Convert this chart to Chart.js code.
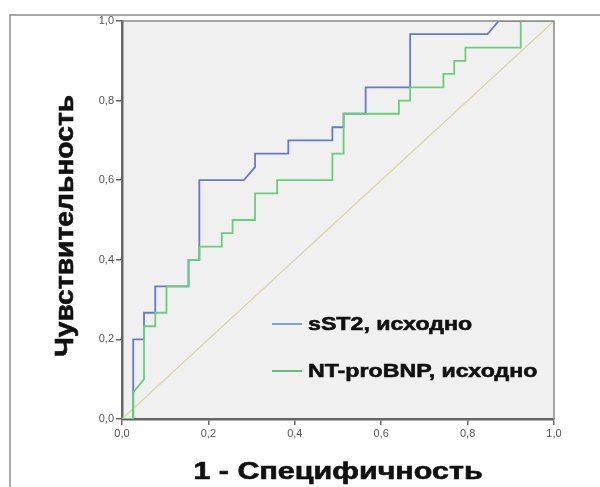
<!DOCTYPE html>
<html>
<head>
<meta charset="utf-8">
<script src="https://cdn.jsdelivr.net/npm/chart.js@4"></script>
<style>
  body { margin: 0; background: #fff; }
  canvas { display: block; }
</style>
</head>
<body>
<canvas id="rocChart" width="600" height="487"></canvas>
<script>
// ROC curves, values
const sst2Fpr = [0, 0.026, 0.026, 0.051, 0.051, 0.077, 0.077, 0.154, 0.154, 0.179, 0.179, 0.282, 0.308, 0.308,
    0.385, 0.385, 0.487, 0.487, 0.513, 0.513, 0.564, 0.564, 0.667, 0.667, 0.846, 0.872, 1.0];
const sst2Tpr = [0, 0, 0.2, 0.2, 0.267, 0.267, 0.333, 0.333, 0.4, 0.4, 0.6, 0.6, 0.633, 0.667,
    0.667, 0.7, 0.7, 0.733, 0.733, 0.767, 0.767, 0.833, 0.833, 0.967, 0.967, 1.0, 1.0];

const bnpFpr = [0, 0.026, 0.026, 0.051, 0.051, 0.077, 0.077, 0.103, 0.103, 0.154, 0.154, 0.179, 0.179,
    0.231, 0.231, 0.256, 0.256, 0.308, 0.308, 0.359, 0.359, 0.487, 0.487, 0.513, 0.513, 0.641, 0.641,
    0.667, 0.667, 0.744, 0.744, 0.769, 0.769, 0.795, 0.795, 0.923, 0.923, 1.0];
const bnpTpr = [0, 0, 0.067, 0.1, 0.233, 0.233, 0.267, 0.267, 0.333, 0.333, 0.4, 0.4, 0.433,
    0.433, 0.467, 0.467, 0.5, 0.5, 0.567, 0.567, 0.6, 0.6, 0.667, 0.667, 0.767, 0.767, 0.8,
    0.8, 0.833, 0.833, 0.867, 0.867, 0.9, 0.9, 0.933, 0.933, 1.0, 1.0];

const refLine = [0, 1];
const tickValues = [0, 0.2, 0.4, 0.6, 0.8, 1.0];

const seriesNames = ['sST2, исходно', 'NT-proBNP, исходно'];
const xTitle = '1 - Специфичность';
const yTitle = 'Чувствительность';

const toPoints = (xs, ys) => xs.map((x, i) => ({ x: x, y: ys[i] }));
const fmtTick = (v) => v.toFixed(1).replace('.', ',');

// the text in the picture is wider and heavier than Liberation Sans, so stretch it
function wideText(ctx, text, x, y, stretch) {
    ctx.save();
    ctx.translate(x, y);
    ctx.scale(stretch, 1);
    ctx.fillText(text, 0, 0);
    ctx.lineWidth = 0.6;
    ctx.strokeStyle = ctx.fillStyle;
    ctx.strokeText(text, 0, 0);
    ctx.restore();
}

// background, frame, titles and the in-plot legend
const decorPlugin = {
    id: 'decor',
    beforeDraw(chart) {
        const { ctx, chartArea: a } = chart;
        ctx.save();
        ctx.fillStyle = '#f0f0f0';
        ctx.fillRect(a.left, a.top, a.right - a.left, a.bottom - a.top);
        // outer frame (top and left)
        ctx.strokeStyle = '#8a8a8a';
        ctx.lineWidth = 1.5;
        ctx.beginPath();
        ctx.moveTo(600, 15);
        ctx.lineTo(10, 15);
        ctx.lineTo(10, 487);
        ctx.stroke();
        ctx.restore();
    },
    afterDraw(chart) {
        const { ctx, chartArea: a } = chart;
        ctx.save();
        // top and right plot border
        ctx.strokeStyle = '#8c8c8c';
        ctx.lineWidth = 1.5;
        ctx.beginPath();
        ctx.moveTo(a.left, a.top);
        ctx.lineTo(a.right, a.top);
        ctx.lineTo(a.right, a.bottom);
        ctx.stroke();

        ctx.fillStyle = '#111';
        ctx.textAlign = 'center';
        ctx.textBaseline = 'middle';
        ctx.font = 'bold 24px "Liberation Sans", Arial, sans-serif';
        wideText(ctx, xTitle, (a.left + a.right) / 2, 472, 1.27);
        ctx.font = 'bold 25px "Liberation Sans", Arial, sans-serif';
        ctx.translate(66, 226);
        ctx.rotate(-Math.PI / 2);
        wideText(ctx, yTitle, 0, 0, 1.13);
        ctx.restore();

        // legend
        ctx.save();
        const legendColors = ['#4a8fd8', '#2fb24e'];
        const legendY = [324, 371];
        ctx.font = 'bold 19px "Liberation Sans", Arial, sans-serif';
        ctx.textBaseline = 'middle';
        ctx.textAlign = 'left';
        seriesNames.forEach((name, i) => {
            ctx.strokeStyle = legendColors[i];
            ctx.lineWidth = 1.5;
            ctx.beginPath();
            ctx.moveTo(272, legendY[i]);
            ctx.lineTo(302, legendY[i]);
            ctx.stroke();
            ctx.fillStyle = '#111';
            wideText(ctx, name, 308, legendY[i] + 1, 1.22);
        });
        ctx.restore();
    }
};

const axisTicks = {
    font: { family: '"Liberation Sans", Arial, sans-serif', size: 11 },
    color: '#555',
    padding: 2,
    callback: (v) => fmtTick(v)
};

const ctx = document.getElementById('rocChart').getContext('2d');
new Chart(ctx, {
    type: 'scatter',
    data: {
        datasets: [
            {
                label: 'ref',
                data: toPoints(refLine, refLine),
                showLine: true,
                borderColor: '#dcd7a6',
                borderWidth: 1.3,
                pointRadius: 0,
                order: 3,
            },
            {
                label: seriesNames[0],
                data: toPoints(sst2Fpr, sst2Tpr),
                showLine: true,
                borderColor: '#6478cc',
                borderWidth: 1.8,
                pointRadius: 0,
                order: 2,
            },
            {
                label: seriesNames[1],
                data: toPoints(bnpFpr, bnpTpr),
                showLine: true,
                borderColor: '#68cf78',
                borderWidth: 1.8,
                pointRadius: 0,
                order: 1,
            },
        ],
    },
    options: {
        responsive: false,
        animation: false,
        layout: { padding: { top: 21, right: 46, left: 0, bottom: 0 } },
        plugins: {
            legend: { display: false },
            tooltip: { enabled: false },
        },
        scales: {
            x: {
                type: 'linear',
                min: 0,
                max: 1,
                afterBuildTicks: (s) => { s.ticks = tickValues.map((v) => ({ value: v })); },
                afterFit: (s) => { s.height = 68; },
                grid: { drawOnChartArea: false, drawTicks: true, tickLength: 6, color: '#666', lineWidth: 1.5 },
                border: { display: true, color: '#666', width: 2.5 },
                ticks: axisTicks,
            },
            y: {
                type: 'linear',
                min: 0,
                max: 1,
                afterBuildTicks: (s) => { s.ticks = tickValues.map((v) => ({ value: v })); },
                afterFit: (s) => { s.width = 122; },
                grid: { drawOnChartArea: false, drawTicks: true, tickLength: 6, color: '#666', lineWidth: 1.5 },
                border: { display: true, color: '#666', width: 2.5 },
                ticks: axisTicks,
            },
        },
    },
    plugins: [decorPlugin],
});
</script>
</body>
</html>
